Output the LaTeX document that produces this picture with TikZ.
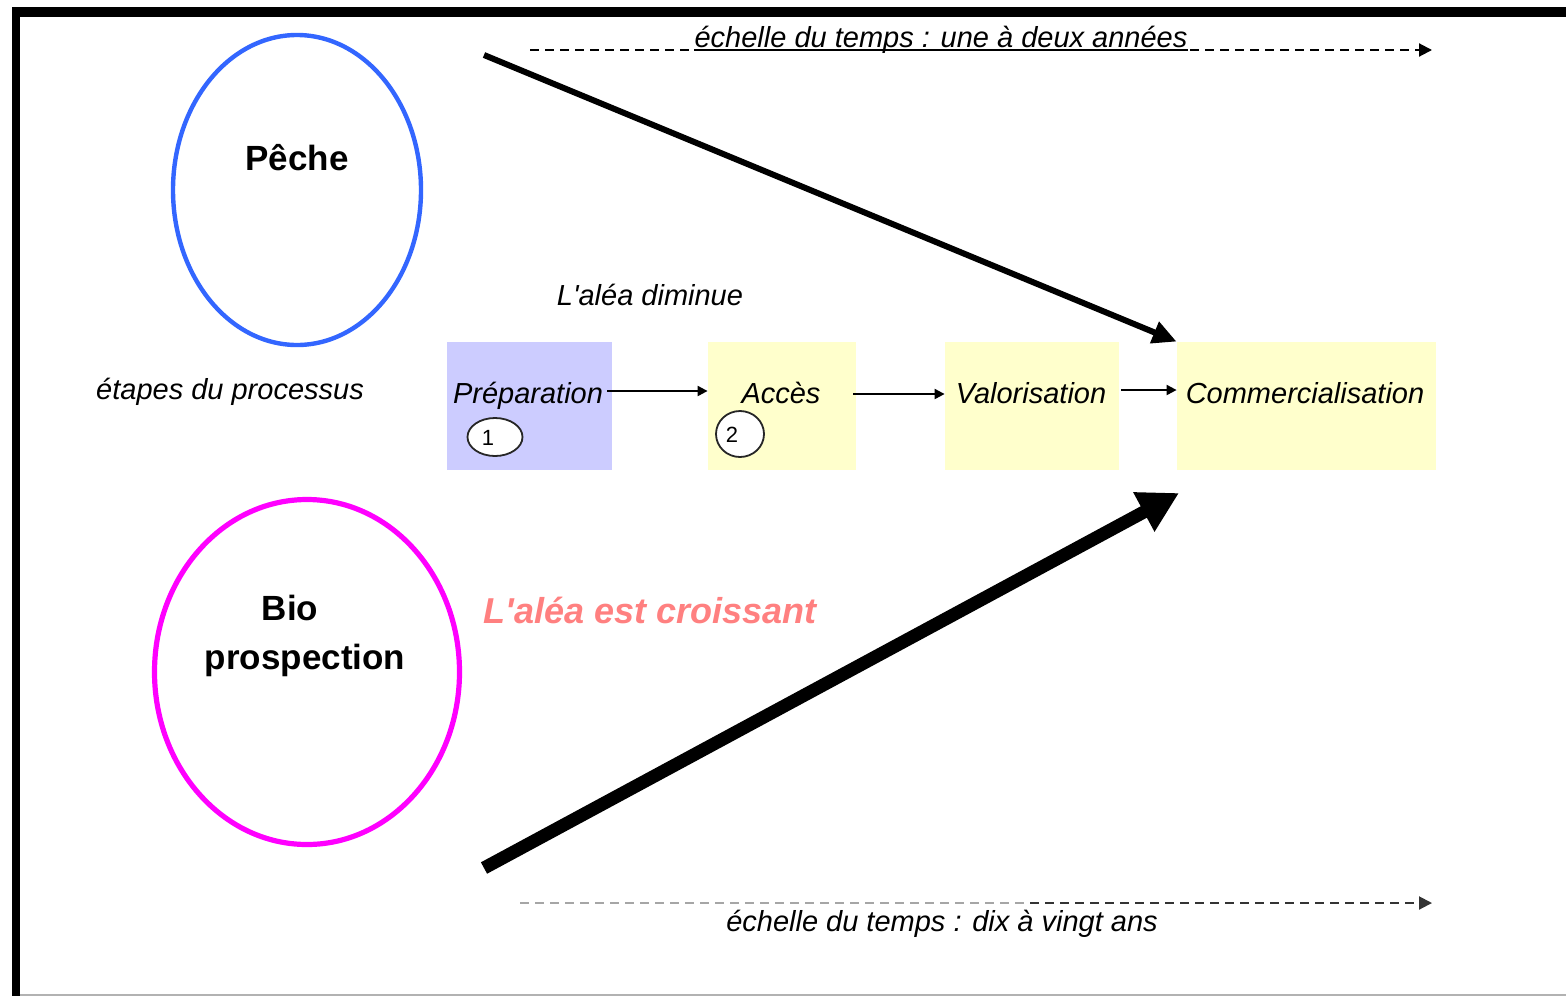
\documentclass[tikz,border=0pt]{standalone}
\usepackage{fontspec}
\setmainfont{Liberation Sans}
\usetikzlibrary{arrows.meta,shapes.geometric}
\definecolor{pecheblue}{HTML}{3366FF}
\definecolor{biomag}{HTML}{FF00FF}
\definecolor{prepfill}{HTML}{CCCCFF}
\definecolor{stepfill}{HTML}{FFFFCC}
\definecolor{salmon}{HTML}{FF8080}
\begin{document}
\begin{tikzpicture}[x=0.5pt,y=-0.5pt,
  lbl/.style={inner sep=0pt, anchor=base, font=\fontsize{14.5}{17}\selectfont\itshape},
  bigtxt/.style={inner sep=0pt, anchor=base, font=\fontsize{17.5}{21}\selectfont\bfseries},
  stepbox/.style={rectangle, inner sep=0pt, minimum height=64pt, fill=stepfill},
  flow/.style={line width=1pt, -{Triangle[length=5pt,width=5pt]}},
  scaleline/.style={line width=1pt, dash pattern=on 4.5pt off 3pt},
  numcirc/.style={ellipse, draw=black!85, line width=0.9pt, fill=white, inner sep=0pt},
  numtxt/.style={inner sep=0pt, font=\fontsize{11}{13}\selectfont},
  procellipse/.style={ellipse, inner sep=0pt},
]
\useasboundingbox (0,0) rectangle (1566,996);

% frame
\draw[line width=5pt] (12,12) -- (1566,12);
\draw[line width=4pt] (16,7) -- (16,996);
\draw[gray!60, line width=0.6pt] (20,995) -- (1566,995);

% ellipses
\node[procellipse, draw=pecheblue, line width=2.2pt, minimum width=124pt, minimum height=155pt] (peche) at (297,190) {};
\node[procellipse, draw=biomag, line width=2.6pt, minimum width=152.5pt, minimum height=172.5pt] (bio) at (307,672) {};
\node[bigtxt] (pechetxt) at (297,170) {Pêche};
\node[bigtxt] (biotxt1) at (290,620) {Bio};
\node[bigtxt] (biotxt2) at (305,669) {prospection};

% boxes
\node[stepbox, fill=prepfill, minimum width=82.5pt] (prep) at (529.5,406) {};
\node[stepbox, minimum width=74pt] (acces) at (782,406) {};
\node[stepbox, minimum width=87pt] (valor) at (1032,406) {};
\node[stepbox, minimum width=129.5pt] (comm) at (1306.5,406) {};
\node[lbl] (preptxt) at (528,403) {Préparation};
\node[lbl] (accestxt) at (781,403) {Accès};
\node[lbl] (valortxt) at (1031,403) {Valorisation};
\node[lbl] (commtxt) at (1305,403) {Commercialisation};

% numbered circles
\node[numcirc, minimum width=27.5pt, minimum height=19pt] (n1) at (495,437) {};
\node[numtxt] (n1txt) at (488,438) {1};
\node[numcirc, minimum width=24pt, minimum height=23pt] (n2) at (740,434) {};
\node[numtxt] (n2txt) at (732,435) {2};

% flow arrows
\draw[flow] ([shift={(-5,-15)}]prep.east) -- ([shift={(0,-15)}]acces.west);
\draw[flow] ([shift={(-3,-12)}]acces.east) -- ([shift={(0,-12)}]valor.west);
\draw[flow] ([shift={(2,-16)}]valor.east) -- ([shift={(0,-16)}]comm.west);

% big arrows
\coordinate (ptopstart) at (484,55);
\draw[line width=3pt, -{Triangle[length=12pt,width=11pt]}] (ptopstart) -- (comm.north west);
\coordinate (pbotstart) at (484,868);
\coordinate (pbotend) at (1179,493);
\draw[line width=6.5pt, -{Triangle[length=20pt,width=21pt]}] (pbotstart) -- (pbotend);

% time scales
\coordinate (ts) at (530,50);
\coordinate (te) at (1432,50);
\draw[scaleline, -{Triangle[length=6.5pt,width=6.5pt]}] (ts) -- (te);
\node[lbl] (scaletop) at (941,47) {échelle du temps : une à deux années};
\draw[line width=1pt] ([yshift=-1.5pt]scaletop.base west) -- ([yshift=-1.5pt]scaletop.base east);

\coordinate (bs) at (520,903);
\coordinate (bm) at (1030,903);
\coordinate (be) at (1432,903);
\draw[scaleline, gray!70] (bs) -- (bm);
\draw[scaleline, black!80, -{Triangle[length=6.5pt,width=6.5pt]}] (bm) -- (be);
\node[lbl] (scalebot) at (942,931) {échelle du temps : dix à vingt ans};

% labels
\node[lbl] (alea1) at (650,305) {L\textquotesingle aléa diminue};
\node[lbl] (etapes) at (230,399) {étapes du processus};
\node[inner sep=0pt, anchor=base, font=\fontsize{18}{22}\selectfont\bfseries\itshape, text=salmon] (alea2) at (650,623) {L\textquotesingle aléa est croissant};
\end{tikzpicture}
\end{document}
